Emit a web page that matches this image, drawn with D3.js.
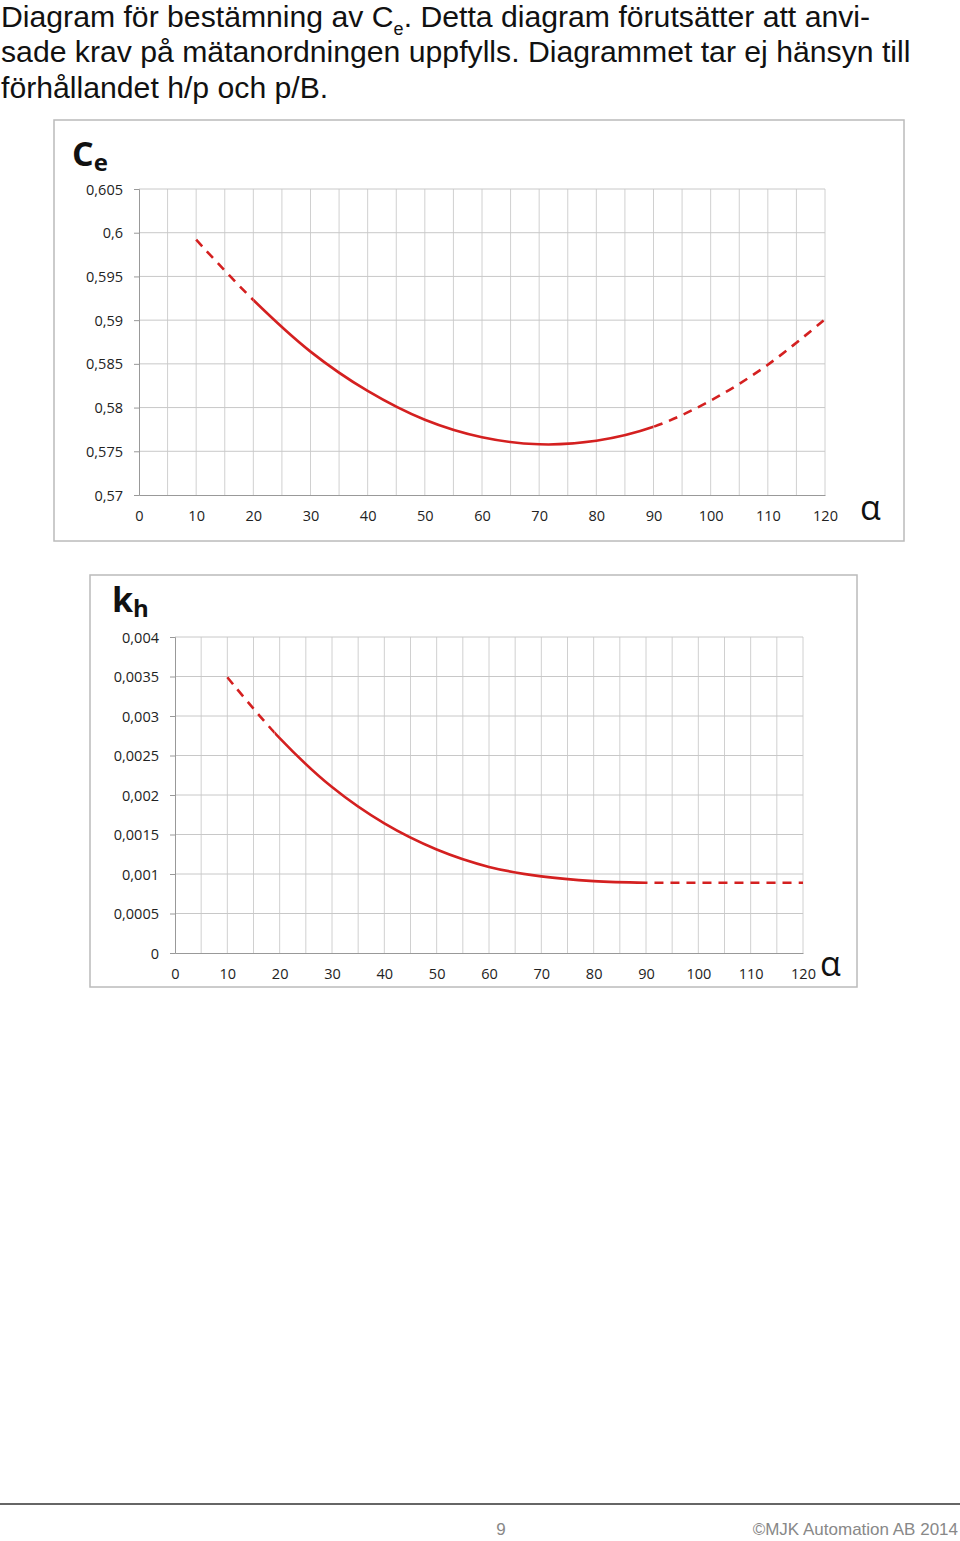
<!DOCTYPE html>
<html><head><meta charset="utf-8">
<script src="https://cdn.jsdelivr.net/npm/d3@7"></script>
<style>body{margin:0;background:#fff}svg{display:block}</style>
</head><body>
<svg id="c" width="960" height="1541"></svg>
<script>
// Data
const alphaTicks = [0,10,20,30,40,50,60,70,80,90,100,110,120];
const ceTicks = [0.57,0.575,0.58,0.585,0.59,0.595,0.6,0.605];
const ceAlpha = [10,20,30,40,50,60,70,80,90,100,110,120];
const ceValues = [0.5992,0.5923,0.5864,0.5819,0.5786,0.5766,0.5758,0.5762,0.5778,0.5808,0.5849,0.5901];
const khTicks = [0,0.0005,0.001,0.0015,0.002,0.0025,0.003,0.0035,0.004];
const khAlpha = [10,20,30,40,50,60,70,80,90,100,110,120];
const khValues = [0.00349,0.00272,0.00210,0.00164,0.00131,0.00109,0.00097,0.00091,0.00089,0.00089,0.00089,0.00089];

const svg = d3.select("#c");
const lab = "'Open Sans', sans-serif";

// title
const title = svg.append("text").attr("font-family","'Liberation Sans', Arial, sans-serif")
  .attr("font-size",30.2).attr("fill","#111");
title.append("tspan").attr("x",1).attr("y",27).text("Diagram för bestämning av C");
title.append("tspan").attr("font-size",18).attr("dy",8).text("e");
title.append("tspan").attr("dy",-8).text(". Detta diagram förutsätter att anvi-");
title.append("tspan").attr("x",1).attr("y",62).text("sade krav på mätanordningen uppfylls. Diagrammet tar ej hänsyn till");
title.append("tspan").attr("x",1).attr("y",98).text("förhållandet h/p och p/B.");

function chart(o) {
  const g = svg.append("g");
  g.append("rect").attr("x",o.frame[0]).attr("y",o.frame[1]).attr("width",o.frame[2]).attr("height",o.frame[3])
    .attr("fill","#fff").attr("stroke","#bbb").attr("stroke-width",1.5);
  const x = d3.scaleLinear().domain([0,120]).range(o.xr);
  const y = d3.scaleLinear().domain(o.yd).range(o.yr);
  // grid
  g.selectAll(".vg").data(d3.range(5,125,5)).join("line")
    .attr("x1",d=>x(d)).attr("x2",d=>x(d)).attr("y1",o.yr[0]).attr("y2",o.yr[1])
    .attr("stroke","#d0d0d0");
  g.selectAll(".hg").data(o.yt.slice(1)).join("line")
    .attr("x1",o.xr[0]).attr("x2",o.xr[1]).attr("y1",d=>y(d)).attr("y2",d=>y(d))
    .attr("stroke","#c8c8c8");
  // axes
  const ya = g.append("g").attr("transform",`translate(${o.xr[0]},0)`)
    .call(d3.axisLeft(y).tickValues(o.yt).tickSize(5).tickPadding(11).tickFormat(d=>String(+d.toFixed(4)).replace(".",",")));
  const xa = g.append("g").attr("transform",`translate(0,${o.yr[0]})`)
    .call(d3.axisBottom(x).tickValues(alphaTicks).tickSize(0).tickPadding(16));
  [ya,xa].forEach(a=>{a.select(".domain").attr("stroke","#999");
    a.selectAll(".tick line").attr("stroke","#999");
    a.selectAll("text").attr("font-family",lab).attr("font-size",14.5).attr("fill","#222");});
  ya.selectAll("text").attr("dy","0.35em");
  // y label
  const t = g.append("text").attr("x",o.lab[0]).attr("y",o.lab[1]).attr("font-family",lab)
    .attr("font-weight","bold").attr("font-size",34).attr("fill","#111");
  t.append("tspan").text(o.sym[0]);
  t.append("tspan").attr("font-size",24).attr("dy",5).text(o.sym[1]);
  g.append("text").attr("x",o.alpha[0]).attr("y",o.alpha[1]).attr("font-family",lab)
    .attr("font-size",34).attr("fill","#111").text("α");
  // curve
  const pts = o.xs.map((a,i)=>[a,o.vs[i]]);
  const line = d3.line().x(d=>x(d[0])).y(d=>y(d[1])).curve(d3.curveCatmullRom.alpha(0.5));
  const id = o.id;
  const defs = g.append("defs");
  defs.append("clipPath").attr("id",id+"s").append("rect")
    .attr("x",x(o.solid[0])).attr("width",x(o.solid[1])-x(o.solid[0])).attr("y",0).attr("height",1541);
  const cd = defs.append("clipPath").attr("id",id+"d");
  cd.append("rect").attr("x",0).attr("width",x(o.solid[0])).attr("y",0).attr("height",1541);
  cd.append("rect").attr("x",x(o.solid[1])).attr("width",960).attr("y",0).attr("height",1541);
  g.append("path").attr("d",line(pts)).attr("fill","none").attr("stroke","#d42020").attr("stroke-width",2.6)
    .attr("clip-path",`url(#${id}s)`);
  g.append("path").attr("d",line(pts)).attr("fill","none").attr("stroke","#d42020").attr("stroke-width",2.6)
    .attr("stroke-dasharray","9,7").attr("clip-path",`url(#${id}d)`);
}

chart({id:"ce",frame:[54,120,850,421],xr:[139,825],yd:[0.57,0.605],yr:[495,189],yt:ceTicks,
  xs:ceAlpha,vs:ceValues,solid:[20,90],lab:[72,166],sym:["C","e"],alpha:[860,520]});
chart({id:"kh",frame:[90,575,767,412],xr:[175,803],yd:[0,0.004],yr:[953,637],yt:khTicks,
  xs:khAlpha,vs:khValues,solid:[19,90],lab:[112,612],sym:["k","h"],alpha:[820,976]});

// footer
svg.append("line").attr("x1",0).attr("x2",960).attr("y1",1504).attr("y2",1504).attr("stroke","#333").attr("stroke-width",1.5);
svg.append("text").attr("x",501).attr("y",1535).attr("text-anchor","middle").attr("font-family","'Liberation Sans', Arial")
  .attr("font-size",17).attr("fill","#888").text("9");
svg.append("text").attr("x",958).attr("y",1535).attr("text-anchor","end").attr("font-family","'Liberation Sans', Arial")
  .attr("font-size",17).attr("fill","#888").text("©MJK Automation AB 2014");
</script>
</body></html>
